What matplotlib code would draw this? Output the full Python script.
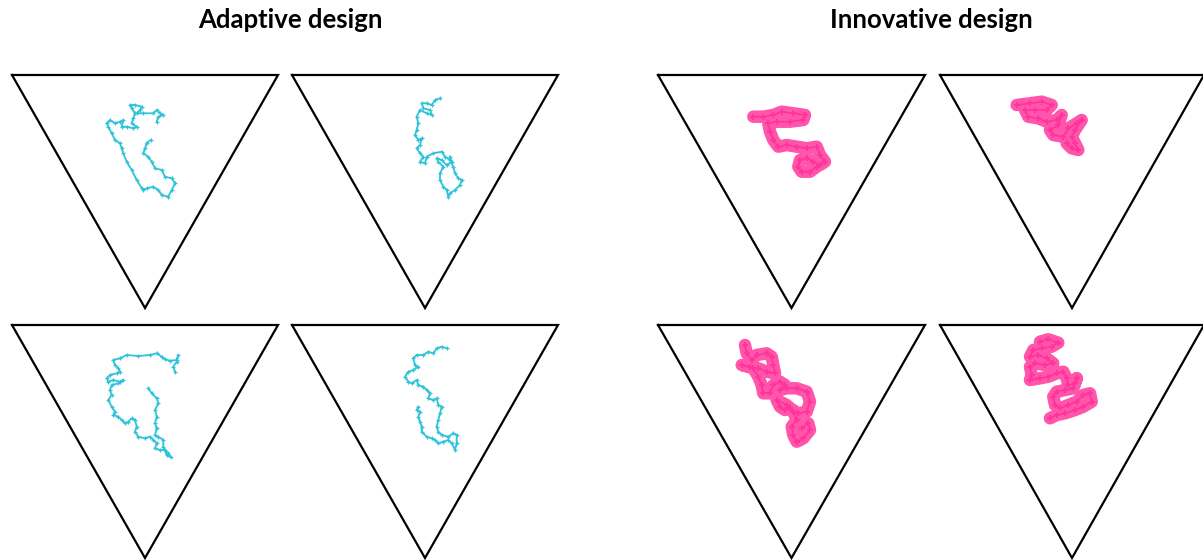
import matplotlib
matplotlib.use("Agg")
import matplotlib.pyplot as plt
import numpy as np

# Group titles
titles = ["Adaptive design", "Innovative design"]
title_x = [290, 931]

# Triangle frames: top-left x, top y, width (pixel space of the figure)
tri_left = [12, 292, 12, 292, 658, 940, 658, 940]
tri_top = [75, 75, 325, 325, 75, 75, 325, 325]
tri_width = [266, 266, 266, 266, 267, 264, 267, 264]
tri_height = 233

# Walk traces (x, y)
walk_a1_x = [151, 146.7, 145, 143.3, 148.3, 151.7, 155, 161.7, 165, 171.7, 175, 171.7, 168.3, 161.7, 158.3, 153.3, 146.7, 143.3, 141.7, 136.7, 131.7, 126.7, 123.3, 121.7, 120, 115, 111.7, 108.3, 106.7, 110, 115, 120, 123.3, 121.7, 126.7, 133.3, 136.7, 131.7, 133.3, 135, 131.7, 130, 135, 141.7, 140, 136.7, 143.3, 153.3, 156.7, 160, 163.3, 158.3, 156.7]
walk_a1_y = [140, 142.7, 148.3, 153.3, 156.7, 161.7, 168.3, 170, 176.7, 178.3, 183.3, 190, 196.7, 195, 190, 186.7, 188.3, 190, 188.3, 180, 170, 161.7, 153.3, 148.3, 143.3, 140, 133.3, 126.7, 123.3, 120, 123.3, 121.7, 120, 126.7, 126.7, 128.3, 126.7, 123.3, 118.3, 113.3, 108.3, 105, 105, 106.7, 110, 113.3, 113.3, 113.3, 110, 113.3, 115, 116.7, 121.7]

walk_a2_x = [440, 435, 431.7, 426.7, 421.7, 423.3, 430, 431.7, 426.7, 420, 416.7, 418.3, 416.7, 415, 418.3, 421.7, 420, 416.7, 420, 423.3, 420, 425, 426.7, 433.3, 441.7, 445, 450, 453.3, 455, 458.3, 461.7, 460, 455, 450, 448.3, 446.7, 443.3, 440, 440, 443.3, 438.3, 436.7, 441.7, 446.7, 451.7, 450]
walk_a2_y = [98.3, 100, 105, 103.3, 103.3, 108.3, 110, 115, 113.3, 110, 116.7, 123.3, 130, 135, 140, 138.3, 145, 148.3, 153.3, 156.7, 161.7, 163.3, 156.7, 153.3, 151.7, 156.7, 160, 166.7, 173.3, 178.3, 180, 185, 190, 193.3, 196.7, 190, 186.7, 180, 173.3, 166.7, 161.7, 158.3, 160, 165, 161.7, 156.7]

walk_a3_x = [175, 173.3, 176.7, 178.3, 176.7, 170, 165, 161.7, 156.7, 150, 138.3, 126.7, 120, 113.3, 115, 118.3, 120, 116.7, 110, 106.7, 108.3, 113.3, 120, 123.3, 118.3, 111.7, 110, 111.7, 108.3, 111.7, 115, 113.3, 118.3, 121.7, 125, 128.3, 131.7, 135, 136.7, 135, 138.3, 145, 150, 153.3, 156.7, 155, 160, 165, 168.3, 171, 166.7, 163.3, 163.3, 158.3, 155, 156.7, 155, 156.7, 155, 158.3, 156.7, 151.7, 148.3]
walk_a3_y = [371.7, 366.7, 361.7, 355, 360, 360.7, 359.3, 356.7, 353.3, 355, 356, 355, 358.3, 360, 365, 368.3, 371.7, 373.3, 375, 378.3, 381.7, 380, 381.7, 380, 383.3, 385, 390, 395, 400, 406.7, 411.7, 415, 416.7, 420, 423.3, 421.7, 418.3, 420, 426.7, 431.7, 436.7, 438.3, 436.7, 440, 443.3, 448.3, 450, 450, 453.3, 457.3, 455, 446.7, 440, 436.7, 435, 428.3, 423.3, 416.7, 410, 403.3, 398.3, 393.3, 388.3]

walk_a4_x = [446.7, 441.7, 436.7, 433.3, 428.3, 423.3, 416.7, 413.3, 415, 418.3, 413.3, 408.3, 405, 408.3, 411.7, 416.7, 418.3, 423.3, 426.7, 430, 428.3, 433.3, 436.7, 438.3, 441.7, 440, 438.3, 436.7, 438.3, 441.7, 448.3, 453.3, 456.7, 456.7, 455, 451.7, 448.3, 443.3, 438.3, 435, 431.7, 426.7, 421.7, 421.7, 420, 418.3, 420, 416.7, 418.3]
walk_a4_y = [348.3, 346.7, 348.3, 353.3, 351.7, 355, 355, 358.3, 365, 366.7, 370, 371.7, 376.7, 381.7, 383.3, 380, 385, 386.7, 390, 393.3, 398.3, 400, 398.3, 405, 406.7, 413.3, 420, 426.7, 431.7, 435, 436.7, 433.3, 435, 443.3, 450, 443.3, 440, 441.7, 443.3, 440, 438.3, 436.7, 431.7, 426.7, 421.7, 416.7, 411.7, 410, 406.7]

walk_i1_x = [753.3, 763.3, 773.3, 781.7, 793.3, 805, 803.3, 790, 776.7, 768.3, 770, 773.3, 778.3, 786.7, 796.7, 806.7, 816.7, 820, 825, 820, 813.3, 806.7, 800, 798.3, 801.7, 810, 816.7]
walk_i1_y = [116.7, 116.7, 115, 111.7, 113.3, 115, 120, 121.7, 121.7, 123.3, 131.7, 140, 146.7, 145, 146.7, 148.3, 146.7, 155, 161.7, 165, 161.7, 158.3, 160, 166.7, 171.7, 171.7, 166.7]

walk_i2_x = [1016.7, 1030, 1041.7, 1051.7, 1046.7, 1035, 1025, 1028.3, 1038.3, 1046.7, 1056.7, 1061.7, 1058.3, 1050, 1053.3, 1063.3, 1068.3, 1076.7, 1081.7, 1075, 1071.7, 1075, 1078.3, 1071.7, 1066.7]
walk_i2_y = [105, 103.3, 101.7, 105, 110, 110, 110, 116.7, 118.3, 121.7, 120, 115, 125, 130, 135, 136.7, 128.3, 123.3, 120, 130, 136.7, 143.3, 150, 148.3, 143.3]

walk_i3_x = [745, 746.7, 751.7, 756.7, 766.7, 771.7, 773.3, 775, 766.7, 758.3, 750, 741.7, 753.3, 758.3, 761.7, 763.3, 770, 773.3, 780, 785, 780, 786.7, 796.7, 806.7, 810, 806.7, 798.3, 790, 785, 780, 776.7, 786.7, 793.3, 796.7, 791.7, 793.3, 796.7, 803.3, 810, 808.3, 801.7]
walk_i3_y = [345, 353.3, 360, 355, 353.3, 356.7, 365, 373.3, 371.7, 368.3, 366.7, 365, 368.3, 376.7, 385, 393.3, 393.3, 385, 381.7, 385, 390, 388.3, 388.3, 391.7, 401.7, 411.7, 413.3, 408.3, 410, 406.7, 400, 405, 411.7, 420, 426.7, 435, 441.7, 438.3, 430, 423.3, 428.3]

walk_i4_x = [1040, 1048.3, 1058.3, 1051.7, 1041.7, 1033.3, 1030, 1038.3, 1046.7, 1053.3, 1045, 1035, 1030, 1031.7, 1030, 1040, 1048.3, 1056.7, 1063.3, 1066.7, 1068.3, 1075, 1076.7, 1073.3, 1065, 1056.7, 1053.3, 1055, 1060, 1068.3, 1076.7, 1083.3, 1090, 1091.7, 1083.3, 1075, 1065, 1056.7, 1050]
walk_i4_y = [341.7, 339.3, 342.7, 346.7, 348.3, 350, 356.7, 355, 358.3, 363.3, 365, 363.3, 366.7, 375, 380, 378.3, 376.7, 373.3, 371.7, 378.3, 385, 383.3, 378.3, 388.3, 390, 391.7, 396.7, 405, 408.3, 405, 401.7, 395, 393.3, 401.7, 406.7, 410, 413.3, 415, 418.3]

cyan_walks = [(walk_a1_x, walk_a1_y), (walk_a2_x, walk_a2_y),
              (walk_a3_x, walk_a3_y), (walk_a4_x, walk_a4_y)]
pink_walks = [(walk_i1_x, walk_i1_y), (walk_i2_x, walk_i2_y),
              (walk_i3_x, walk_i3_y), (walk_i4_x, walk_i4_y)]

CYAN = "#2EC3D8"
PINK = "#FF3399"

fig = plt.figure(figsize=(12.03, 5.60), dpi=100)
ax = fig.add_axes([0, 0, 1, 1])
ax.set_xlim(0, 1203)
ax.set_ylim(560, 0)
ax.axis("off")

for l, t, w in zip(tri_left, tri_top, tri_width):
    xs = [l, l + w, l + w / 2, l]
    ys = [t, t, t + tri_height, t]
    ax.plot(xs, ys, color="black", lw=1.6, solid_joinstyle="miter", zorder=2)

for wx, wy in cyan_walks:
    ax.plot(wx, wy, color=CYAN, lw=1.3, marker="+", ms=3.5, mew=0.9, zorder=3)

for wx, wy in pink_walks:
    ax.plot(wx, wy, color="#FF55AA", lw=9, solid_capstyle="round",
            solid_joinstyle="round", zorder=3)
    ax.plot(wx, wy, color=PINK, lw=1.2, marker="+", ms=5, mew=1.2, zorder=4)

for t, x in zip(titles, title_x):
    ax.text(x, 20, t, ha="center", va="center", fontsize=18.5,
            fontweight="bold", family=["Lato", "DejaVu Sans"], color="black")

fig.savefig("out.png", dpi=100)
